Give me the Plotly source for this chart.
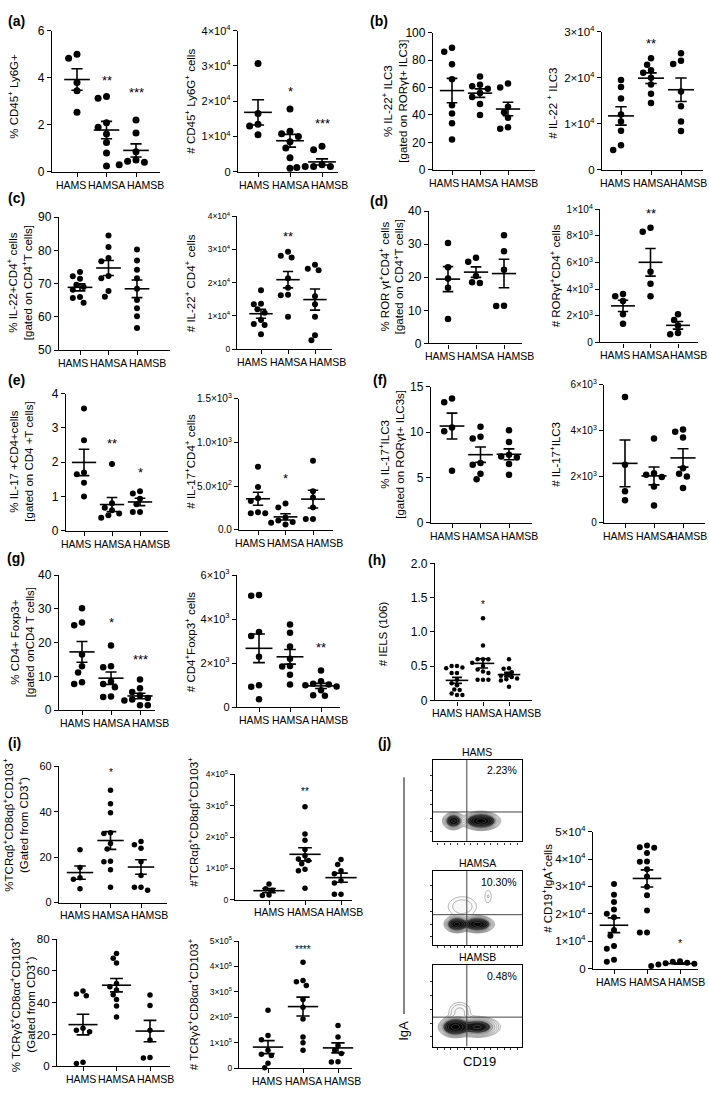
import numpy as np
import plotly.graph_objects as go

W, H = 709, 1097
FONT = "Arial, Liberation Sans, sans-serif"
groups = ["HAMS", "HAMSA", "HAMSB"]

# ---------------- data (per panel: [HAMS, HAMSA, HAMSB]) ----------------
a_pct = [[5.0, 4.83, 3.8, 3.45, 2.53], [3.13, 3.2, 2.08, 1.89, 1.61, 1.24, 0.8, 0.24],
         [2.2, 1.65, 0.85, 0.5, 0.45, 0.4, 0.3]]
a_cnt = [[30700, 16500, 13500, 13000, 10500], [17800, 11500, 10800, 10000, 8500, 6700, 4000, 1000],
         [7200, 6200, 2000, 1500, 1500, 1500, 1200, 1200]]
b_pct = [[86, 89, 77, 66, 47, 41, 34, 22], [68, 62, 61, 59, 56, 53, 48, 40], [63, 60, 46, 42, 38, 31, 30]]
b_cnt = [[19500, 18000, 15500, 12000, 10500, 8500, 5300, 4300],
         [24200, 22800, 21600, 21100, 20000, 18500, 16500, 14500],
         [25300, 23700, 23000, 17000, 13800, 10500, 8400]]
c_pct = [[73.5, 72.2, 71.5, 69.7, 69, 68.2, 66, 65.7, 64.3], [84.5, 81, 77.7, 76.7, 72.3, 71.6, 67.8, 66.1],
         [80.3, 77, 74.2, 71.6, 68.5, 65.1, 62.6, 60.2, 56.7]]
c_cnt = [[17700, 13700, 13500, 12000, 11000, 8800, 7600, 7300, 4500],
         [29300, 28100, 27600, 21300, 18500, 16400, 16200, 9800],
         [25400, 24200, 23700, 15900, 13500, 9800, 4200, 2700]]
d_pct = [[30.4, 23, 19.6, 16.8, 7.4], [25.9, 24.7, 20.4, 18.5, 18.3], [32.7, 27.9, 22.3, 11.3, 11.4]]
d_cnt = [[3630, 3460, 3100, 2120, 1390], [8600, 8300, 5300, 4400, 3460], [2120, 1680, 1270, 710, 610]]
e_pct = [[3.57, 2.64, 1.7, 1.65, 1.4, 1.0], [1.95, 0.8, 0.67, 0.6, 0.5, 0.45, 0.38],
         [1.15, 1.09, 0.93, 0.77, 0.55, 0.55]]
e_cnt = [[720, 490, 360, 330, 200, 190, 190], [300, 255, 140, 105, 90, 80, 60], [790, 440, 370, 255, 124, 124]]
f_pct = [[13.7, 13.3, 10.5, 10.1, 5.75], [10.6, 9.5, 9.3, 6.6, 6.4, 5.4, 4.8], [10.2, 8.9, 7.5, 7.3, 7.2, 6.5, 5.3]]
f_cnt = [[5470, 2520, 1370, 980], [3670, 2160, 2090, 1990, 1580, 750], [3960, 4060, 3710, 2370, 2130, 2010, 1510]]
g_pct = [[30.2, 26.0, 25.2, 16.5, 13, 11.2, 8.3, 7.8], [19.2, 13, 12.7, 8.5, 7.8, 6.8, 4.1, 3.9],
         [9.1, 6.5, 5.4, 4.4, 3.6, 3.2, 2.9, 1.5, 1.5]]
g_cnt = [[5060, 5100, 3420, 3240, 2300, 1000, 930, 370], [3760, 3390, 2760, 2200, 1870, 1850, 1480, 1030],
         [1670, 1180, 1070, 1030, 1000, 950, 780, 550, 520]]
h_iels = [[0.5, 0.5, 0.48, 0.47, 0.4, 0.4, 0.3, 0.25, 0.22, 0.16, 0.15, 0.1, 0.08, 0.08],
          [1.2, 0.8, 0.6, 0.6, 0.6, 0.55, 0.5, 0.45, 0.42, 0.4, 0.3, 0.3, 0.3],
          [0.6, 0.47, 0.46, 0.41, 0.38, 0.36, 0.34, 0.32, 0.31, 0.29, 0.2]]
i_ab_pct = [[23.3, 15.5, 11, 10.3, 6.1], [49.5, 43.6, 39.6, 30.8, 30.5, 26, 23.6, 18.2, 18, 14.5, 6.8],
            [26.9, 25.5, 24, 18, 12, 6.8, 6.8, 5.4]]
i_ab_cnt = [[50000, 35000, 30000, 15000, 13000],
            [297000, 210000, 190000, 160000, 140000, 130000, 125000, 115000, 97000, 92000, 36000],
            [128000, 112000, 92000, 83000, 60000, 53000, 17000, 17000]]
i_gd_pct = [[47.3, 45.5, 44.4, 24, 22.7, 21.7, 2.5, 1.7], [71, 68, 65, 52, 50, 48, 45, 42, 38, 31],
            [44.8, 38.2, 22.7, 16.5, 5.2, 5.6]]
i_gd_cnt = [[228000, 129000, 112000, 71000, 55000, 50000, 20000, 2000],
            [417000, 345000, 340000, 325000, 270000, 240000, 194000, 123000, 100000, 71000],
            [168000, 123000, 90000, 71000, 58000, 26000, 25000]]
j_cnt = [[30900, 27000, 24300, 21600, 20000, 18800, 14100, 12000, 8300, 7300, 3300, 2500],
         [44900, 44300, 44100, 42200, 39100, 39000, 36300, 33600, 29900, 26800, 21200, 13200, 13200],
         [2700, 2500, 2200, 2000, 1800, 1500, 1200, 1000]]

# significance labels per group
a_pct_sig = ["", "**", "***"]
a_cnt_sig = ["", "*", "***"]
b_cnt_sig = ["", "**", ""]
c_cnt_sig = ["", "**", ""]
d_cnt_sig = ["", "**", ""]
e_pct_sig = ["", "**", "*"]
e_cnt_sig = ["", "*", ""]
g_pct_sig = ["", "*", "***"]
g_cnt_sig = ["", "", "**"]
h_sig = ["", "*", ""]
i_ab_pct_sig = ["", "*", ""]
i_ab_cnt_sig = ["", "**", ""]
i_gd_pct_sig = ["", "**", ""]
i_gd_cnt_sig = ["", "****", ""]
j_sig = ["", "***", "*"]
none_sig = ["", "", ""]

# tick values / labels
def e(m, p):
    return f"{m}×10<sup>{p}</sup>"

t_a_pct = [0, 2, 4, 6]
l_a_pct = ["0", "2", "4", "6"]
t_e4_4 = [0, 10000, 20000, 30000, 40000]
l_e4_4 = ["0", e(1, 4), e(2, 4), e(3, 4), e(4, 4)]
t_b_pct = [0, 20, 40, 60, 80, 100]
l_b_pct = ["0", "20", "40", "60", "80", "100"]
t_e4_3 = [0, 10000, 20000, 30000]
l_e4_3 = ["0", e(1, 4), e(2, 4), e(3, 4)]
t_c_pct = [50, 60, 70, 80, 90]
l_c_pct = ["50", "60", "70", "80", "90"]
t_d_pct = [0, 10, 20, 30, 40]
l_d_pct = ["0", "10", "20", "30", "40"]
t_d_cnt = [0, 2000, 4000, 6000, 8000, 10000]
l_d_cnt = ["0", e(2, 3), e(4, 3), e(6, 3), e(8, 3), e(1, 4)]
t_e_pct = [0, 1, 2, 3, 4]
l_e_pct = ["0", "1", "2", "3", "4"]
t_e_cnt = [0, 500, 1000, 1500]
l_e_cnt = ["0.0", "5.0×10<sup>2</sup>", "1.0×10<sup>3</sup>", "1.5×10<sup>3</sup>"]
t_f_pct = [0, 5, 10, 15]
l_f_pct = ["0", "5", "10", "15"]
t_e3_6 = [0, 2000, 4000, 6000]
l_e3_6 = ["0", e(2, 3), e(4, 3), e(6, 3)]
t_g_pct = [0, 10, 20, 30, 40]
l_g_pct = ["0", "10", "20", "30", "40"]
t_h = [0, 0.5, 1.0, 1.5, 2.0]
l_h = ["0", "0.5", "1.0", "1.5", "2.0"]
t_i1 = [0, 20, 40, 60]
l_i1 = ["0", "20", "40", "60"]
t_i2 = [0, 100000, 200000, 300000, 400000]
l_i2 = ["0", e(1, 5), e(2, 5), e(3, 5), e(4, 5)]
t_i3 = [0, 20, 40, 60, 80]
l_i3 = ["0", "20", "40", "60", "80"]
t_i4 = [0, 100000, 200000, 300000, 400000, 500000]
l_i4 = ["0", e(1, 5), e(2, 5), e(3, 5), e(4, 5), e(5, 5)]
t_j = [0, 10000, 20000, 30000, 40000, 50000]
l_j = ["0", e(1, 4), e(2, 4), e(3, 4), e(4, 4), e(5, 4)]

# flow cytometry panel (j): population centres / spreads / weights
flow_titles = ["HAMS", "HAMSA", "HAMSB"]
flow_pcts = ["2.23%", "10.30%", "0.48%"]
flow_hams = [(0.23, 0.25, 0.045, 0.04, 0.55), (0.54, 0.25, 0.075, 0.04, 1.0), (0.5, 0.6, 0.12, 0.15, 0.01)]
flow_hamsa = [(0.27, 0.28, 0.05, 0.04, 0.95), (0.5, 0.28, 0.065, 0.04, 1.0),
              (0.33, 0.52, 0.12, 0.1, 0.03), (0.62, 0.66, 0.035, 0.08, 0.02)]
flow_hamsb = [(0.25, 0.24, 0.065, 0.045, 1.0), (0.5, 0.24, 0.1, 0.05, 0.35), (0.3, 0.42, 0.08, 0.08, 0.04)]

# ---------------- layout geometry (pixels) ----------------
# box = (left, right, top, bottom, x of first category, x of last category); tfs = y tick font size
specs = [
    dict(v=a_pct, t=t_a_pct, l=l_a_pct, s=a_pct_sig, sy=[0, 4.0, 3.5], box=(52, 160, 23, 166, 77, 136), yr=(0, 6), ms=7,
         tfs=12, title="% CD45<sup>+</sup> Ly6G+", tx=13, ty=90),
    dict(v=a_cnt, t=t_e4_4, l=l_e4_4, s=a_cnt_sig, sy=[0, 23500, 14400], box=(238, 338, 23, 166, 258, 322), yr=(0, 40000), ms=7,
         tfs=11, title="# CD45<sup>+</sup> Ly6G<sup>+</sup> cells", tx=190, ty=95),
    dict(v=b_pct, t=t_b_pct, l=l_b_pct, s=none_sig, sy=[0, 0, 0], box=(433, 535, 25, 164, 452, 508), yr=(0, 100), ms=6.5,
         tfs=12, title="% IL-22<sup>+</sup> ILC3<br>[gated on RORγt+ ILC3]", tx=395, ty=95),
    dict(v=b_cnt, t=t_e4_3, l=l_e4_3, s=b_cnt_sig, sy=[0, 28000, 0], box=(602, 703, 24, 164, 621, 681), yr=(0, 30000), ms=6.5,
         tfs=11.5, title="# IL-22 <sup>+</sup> ILC3", tx=552, ty=97),
    dict(v=c_pct, t=t_c_pct, l=l_c_pct, s=none_sig, sy=[0, 0, 0], box=(59, 170, 212, 347, 80, 137), yr=(50, 90), ms=6,
         tfs=12, title="% IL-22+CD4<sup>+</sup> cells<br>[gated on CD4<sup>+</sup>T cells]", tx=19, ty=279),
    dict(v=c_cnt, t=t_e4_4, l=l_e4_4, s=c_cnt_sig, sy=[0, 34700, 0], box=(237, 332, 211, 346, 261, 315), yr=(0, 40000), ms=6,
         tfs=8.5, title="# IL-22<sup>+</sup> CD4<sup>+</sup> cells", tx=190, ty=279),
    dict(v=d_pct, t=t_d_pct, l=l_d_pct, s=none_sig, sy=[0, 0, 0], box=(429, 522, 206, 340, 448, 504), yr=(0, 40), ms=6.5,
         tfs=12, title="% ROR γt<sup>+</sup>CD4<sup>+</sup> cells<br>[gated on CD4<sup>+</sup>T cells]", tx=391, ty=273),
    dict(v=d_cnt, t=t_d_cnt, l=l_d_cnt, s=d_cnt_sig, sy=[0, 9900, 0], box=(600, 698, 204, 339, 623, 678), yr=(0, 10000), ms=6.5,
         tfs=10, title="# RORγt<sup>+</sup>CD4<sup>+</sup> cells", tx=555, ty=272),
    dict(v=e_pct, t=t_e_pct, l=l_e_pct, s=e_pct_sig, sy=[0, 2.64, 1.78], box=(66, 168, 391, 530, 84, 140), yr=(0, 4), ms=6,
         tfs=12, title="% IL-17 +CD4+cells<br>[gated on CD4 +T cells]", tx=22, ty=460),
    dict(v=e_cnt, t=t_e_cnt, l=l_e_cnt, s=e_cnt_sig, sy=[0, 620, 0], box=(239, 333, 396, 529, 258, 313), yr=(0, 1500), ms=6,
         tfs=10, title="# IL-17<sup>+</sup>CD4<sup>+</sup> cells", tx=190, ty=460),
    dict(v=f_pct, t=t_f_pct, l=l_f_pct, s=none_sig, sy=[0, 0, 0], box=(431, 532, 384, 522, 452, 509), yr=(0, 15), ms=6.5,
         tfs=12, title="% IL-17<sup>+</sup>ILC3<br>[gated on RORγt+ ILC3s]", tx=392, ty=453),
    dict(v=f_cnt, t=t_e3_6, l=l_e3_6, s=none_sig, sy=[0, 0, 0], box=(604, 705, 382, 522, 625, 683), yr=(0, 6000), ms=6.5,
         tfs=10, title="# IL-17<sup>+</sup>ILC3", tx=555, ty=453),
    dict(v=g_pct, t=t_g_pct, l=l_g_pct, s=g_pct_sig, sy=[0, 26.8, 15.9], box=(59, 155, 575, 712, 82, 140), yr=(0, 40), ms=6.5,
         tfs=12, title="% CD4+ Foxp3+<br>[gated onCD4 T cells]", tx=22, ty=643),
    dict(v=g_cnt, t=t_e3_6, l=l_e3_6, s=g_cnt_sig, sy=[0, 0, 2870], box=(237, 340, 575, 709, 259, 321), yr=(0, 6000), ms=6.5,
         tfs=11, title="# CD4<sup>+</sup>Foxp3<sup>+</sup> cells", tx=190, ty=643),
    dict(v=h_iels, t=t_h, l=l_h, s=h_sig, sy=[0, 1.44, 0], box=(435, 532, 563, 702, 457, 509), yr=(0, 2), ms=4.5,
         tfs=12, title="# IELS (106)", tx=383, ty=635, sfs=10),
    dict(v=i_ab_pct, t=t_i1, l=l_i1, s=i_ab_pct_sig, sy=[0, 58.8, 0], box=(59, 167, 769, 907, 80, 141), yr=(0, 60), ms=5.5,
         tfs=11, title="%TCRαβ<sup>+</sup>CD8αβ<sup>+</sup>CD103<sup>+</sup><br>(Gated from CD3<sup>+</sup>)", tx=16, ty=828, sfs=10),
    dict(v=i_ab_cnt, t=t_i2, l=l_i2, s=i_ab_cnt_sig, sy=[0, 355000, 0], box=(235, 352, 777, 904, 269, 341), yr=(0, 400000), ms=5.5,
         tfs=8.5, title="#TCRαβ<sup>+</sup>CD8αβ<sup>+</sup>CD103<sup>+</sup>", tx=193, ty=825, sfs=10),
    dict(v=i_gd_pct, t=t_i3, l=l_i3, s=i_gd_pct_sig, sy=[0, 83.7, 0], box=(57, 170, 944, 1073, 83, 150), yr=(0, 80), ms=5.5,
         tfs=11.5, title="% TCRγδ<sup>+</sup>CD8αα<sup>+</sup>CD103<sup>+</sup><br>(Gated from CD3<sup>+</sup>)", tx=22, ty=1010, sfs=10),
    dict(v=i_gd_cnt, t=t_i4, l=l_i4, s=i_gd_cnt_sig, sy=[0, 477000, 0], box=(239, 352, 946, 1075, 268, 338), yr=(0, 500000), ms=5.5,
         tfs=8.5, title="# TCRγδ<sup>+</sup>CD8αα<sup>+</sup>CD103<sup>+</sup>", tx=193, ty=1010, sfs=10),
    dict(v=j_cnt, t=t_j, l=l_j, s=j_sig, sy=[0, 51000, 10500], box=(593, 698, 835, 974, 614, 680), yr=(0, 50000), ms=6,
         tfs=11.5, title="# CD19<sup>+</sup>IgA<sup>+</sup>cells", tx=547, ty=893, sfs=11),
]

panel_letters = ["(a)", "(b)", "(c)", "(d)", "(e)", "(f)", "(g)", "(h)", "(i)", "(j)"]
letter_xy = [(16, 13), (379, 13), (16, 193), (379, 196), (16, 377), (380, 377), (16, 558), (377, 560), (15, 745), (384, 745)]

# flow boxes: (left, right, top, bottom, horizontal gate y fraction)
flow_boxes = [(433, 522, 762, 845, 0.36), (433, 522, 875, 950, 0.41), (433, 522, 970, 1053, 0.36)]
flow_vgate = 0.38

XFS = 10.5  # x category label font size
EM = {"HAMS": 2.889, "HAMSA": 3.556, "HAMSB": 3.556}  # approx label widths (em)

# ---------------- helpers ----------------
def swarm(vals, ppu_y, ppu_x, d):
    order = np.argsort(-vals, kind="stable")
    placed = []
    offs = np.zeros(len(vals))
    step = d * 0.6
    cands = [0.0]
    for k in range(1, 10):
        cands += [-k * step, k * step]
    for i in order:
        yp = vals[i] * ppu_y
        for c in cands:
            if all((c - px) ** 2 + (yp - py) ** 2 >= (d * 1.02) ** 2 for px, py in placed):
                offs[i] = c
                placed.append((c, yp))
                break
    return offs / ppu_x


def ax_names(n):
    return ("x" if n == 1 else f"x{n}"), ("y" if n == 1 else f"y{n}"), \
           ("xaxis" if n == 1 else f"xaxis{n}"), ("yaxis" if n == 1 else f"yaxis{n}")


fig = go.Figure()
layout = dict(width=W, height=H, margin=dict(l=0, r=0, t=0, b=0), paper_bgcolor="white",
              plot_bgcolor="white", showlegend=False, font=dict(family=FONT, color="black", size=11))
annotations = []
shapes = []

for n, sp in enumerate(specs, start=1):
    L, R, T, B, c0, c2 = sp["box"]
    ymin, ymax = sp["yr"]
    s = (c2 - c0) / 2.0
    xr = [-(c0 - L) / s, 2 + (R - c2) / s]
    ppu_y = (B - T) / (ymax - ymin)
    d = sp["ms"]
    xr_, yr_, xk, yk = ax_names(n)
    for gi, vals in enumerate(sp["v"]):
        v = np.array(vals, dtype=float)
        offs = swarm(v, ppu_y, s, d)
        fig.add_trace(go.Scatter(x=gi + offs, y=v, mode="markers", xaxis=xr_, yaxis=yr_,
                                 marker=dict(size=d, color="black", line=dict(width=0)),
                                 cliponaxis=False, hoverinfo="skip"))
        m = v.mean()
        se = v.std(ddof=1) / np.sqrt(len(v))
        fig.add_trace(go.Scatter(x=[gi], y=[m], mode="markers", xaxis=xr_, yaxis=yr_,
                                 marker=dict(symbol="line-ew", size=0.62 * s, color="black",
                                             line=dict(width=1.6, color="black")),
                                 error_y=dict(type="data", array=[se], visible=True, thickness=1.6,
                                              width=0.19 * s, color="black"),
                                 cliponaxis=False, hoverinfo="skip"))
        if sp["s"][gi]:
            annotations.append(dict(x=gi, y=sp["sy"][gi], xref=xr_, yref=yr_, text=sp["s"][gi],
                                    showarrow=False, xanchor="center", yanchor="middle", yshift=-3,
                                    font=dict(size=sp.get("sfs", 13), family=FONT, color="#000000")))
    # category labels: centred on ticks, pushed apart when they would collide (as in the figure)
    ticks_px = [c0, (c0 + c2) / 2.0, c2]
    wpx = [EM[g] * XFS for g in groups]
    gap = 2.0
    cx = [min(ticks_px[0], ticks_px[1] - wpx[1] / 2 - gap - wpx[0] / 2), ticks_px[1],
          max(ticks_px[2], ticks_px[1] + wpx[1] / 2 + gap + wpx[2] / 2)]
    cx[2] = min(cx[2], W - 2 - wpx[2] / 2)
    for g, xc in zip(groups, cx):
        annotations.append(dict(x=xc / W, y=1 - (B + 13) / H, xref="paper", yref="paper", text=g,
                                showarrow=False, xanchor="center", yanchor="middle",
                                font=dict(size=XFS, family=FONT, color="black")))
    layout[xk] = dict(domain=[L / W, R / W], range=xr, anchor=yr_, tickmode="array", tickvals=[0, 1, 2],
                      showticklabels=False, showline=True, linewidth=1.3, linecolor="black",
                      ticks="outside", ticklen=4, tickwidth=1.3, tickcolor="black", showgrid=False,
                      zeroline=False, fixedrange=True)
    layout[yk] = dict(domain=[1 - B / H, 1 - T / H], range=[ymin, ymax], anchor=xr_, tickmode="array",
                      tickvals=sp["t"], ticktext=sp["l"], showline=True, linewidth=1.3, linecolor="black",
                      ticks="outside", ticklen=4, tickwidth=1.3, tickcolor="black", showgrid=False,
                      zeroline=False, tickfont=dict(size=sp["tfs"], family=FONT, color="black"),
                      fixedrange=True)
    annotations.append(dict(x=sp["tx"] / W, y=1 - sp["ty"] / H, xref="paper", yref="paper",
                            text=sp["title"], textangle=-90, showarrow=False, xanchor="center",
                            yanchor="middle", font=dict(size=11.5, family=FONT, color="black")))

# ---------------- flow cytometry contour plots ----------------
gx = np.linspace(0, 1, 100)
gy = np.linspace(0, 1, 100)
GX, GY = np.meshgrid(gx, gy)
for k, (blobs, (L, R, T, B, hg)) in enumerate(zip([flow_hams, flow_hamsa, flow_hamsb], flow_boxes)):
    n = len(specs) + 1 + k
    xr_, yr_, xk, yk = ax_names(n)
    Z = np.zeros_like(GX)
    for cx_, cy, sx, sy_, w in blobs:
        Z += w * np.exp(-((GX - cx_) ** 2 / (2 * sx ** 2) + (GY - cy) ** 2 / (2 * sy_ ** 2)))
    Z = np.log10(Z / Z.max() + 1e-6)
    fig.add_trace(go.Contour(x=gx, y=gy, z=Z, xaxis=xr_, yaxis=yr_, showscale=False, zmin=-2.0, zmax=0,
                             colorscale=[[0, "white"], [0.35, "#f2f2f2"], [0.5, "#a8a8a8"],
                                         [0.62, "#1a1a1a"], [1, "black"]],
                             contours=dict(start=-1.9, end=-0.05, size=0.2, coloring="fill"),
                             line=dict(width=0.5, color="#666"), hoverinfo="skip"))
    layout[xk] = dict(domain=[L / W, R / W], range=[0, 1], anchor=yr_, showline=True, mirror=True,
                      linecolor="black", linewidth=1.2, showgrid=False, zeroline=False,
                      ticks="outside", ticklen=2, tickwidth=0.8, tickcolor="#333",
                      tickvals=list(np.linspace(0.05, 0.95, 13)), showticklabels=False, fixedrange=True)
    layout[yk] = dict(domain=[1 - B / H, 1 - T / H], range=[0, 1], anchor=xr_, showline=True, mirror=True,
                      linecolor="black", linewidth=1.2, showgrid=False, zeroline=False,
                      ticks="outside", ticklen=2, tickwidth=0.8, tickcolor="#333",
                      tickvals=[0.12, 0.28, 0.45, 0.62, 0.8], showticklabels=False, fixedrange=True)
    shapes.append(dict(type="line", xref=xr_, yref=yr_, x0=flow_vgate, x1=flow_vgate, y0=0, y1=1,
                       line=dict(color="#444", width=1)))
    shapes.append(dict(type="line", xref=xr_, yref=yr_, x0=0, x1=1, y0=hg, y1=hg,
                       line=dict(color="#444", width=1)))
    annotations.append(dict(x=(L + R) / 2 / W, y=1 - (T - 8) / H, xref="paper", yref="paper",
                            xanchor="center", yanchor="middle",
                            text=flow_titles[k], showarrow=False, font=dict(size=10.5, family=FONT)))
    annotations.append(dict(x=(R - 3) / W, y=1 - (T + 11) / H, xref="paper", yref="paper", xanchor="right",
                            yanchor="middle",
                            text=flow_pcts[k], showarrow=False, font=dict(size=10.5, family=FONT)))

shapes.append(dict(type="line", xref="paper", yref="paper", x0=404 / W, x1=404 / W, y0=1 - 780 / H,
                   y1=1 - 1020 / H, line=dict(color="#333", width=1.2)))
annotations.append(dict(x=404 / W, y=1 - 1037 / H, xref="paper", yref="paper", text="IgA", textangle=-90,
                        xanchor="center", yanchor="middle",
                        showarrow=False, font=dict(size=13, family=FONT)))
annotations.append(dict(x=480 / W, y=1 - 1068 / H, xref="paper", yref="paper", text="CD19",
                        xanchor="center", yanchor="middle",
                        showarrow=False, font=dict(size=13, family=FONT)))

for lab, (lx, ly) in zip(panel_letters, letter_xy):
    annotations.append(dict(x=lx / W, y=1 - ly / H, xref="paper", yref="paper", text=f"<b>{lab}</b>",
                            showarrow=False, xanchor="center", yanchor="middle",
                            font=dict(size=14, family=FONT, color="black")))

layout["annotations"] = annotations
layout["shapes"] = shapes
fig.update_layout(**layout)
fig.write_html("out.html", config={"displayModeBar": False},
               post_script="document.body.style.margin='0';document.body.style.overflow='hidden';")
